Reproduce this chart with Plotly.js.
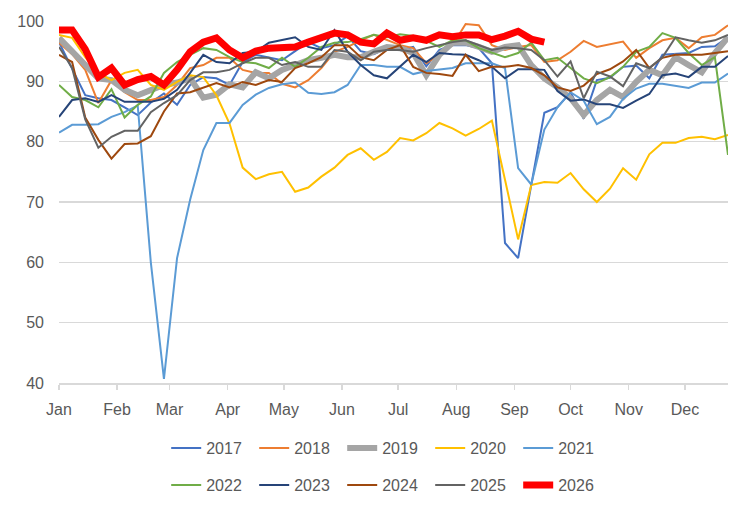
<!DOCTYPE html>
<html>
<head>
<meta charset="utf-8">
<script src="https://cdn.plot.ly/plotly-3.0.1.min.js"></script>
<style>
  html, body { margin: 0; padding: 0; background: #fff; }
  #chart { width: 752px; height: 511px; }
</style>
</head>
<body>
<div id="chart"></div>
<script>
// weekly readings, one value per week starting 1 Jan
const s2017 = [96.5, 92, 87.7, 87.2, 86.9, 85.7, 84.4, 86.5, 88, 86.1, 89.4, 90.7, 90.5, 89.4, 93.2, 94.4, 94, 93.5, 95, 96.5, 95.5, 96, 97.5, 95, 94.5, 95.5, 95.2, 95.7, 92.5, 95.2, 96, 96, 95.5, 93, 63.2, 60.7, 72.8, 84.8, 85.7, 88.2, 83.8, 90.2, 90.6, 92.4, 92.6, 90.5, 94.4, 94.5, 94.7, 95.7, 95.8, 97.3];
const s2018 = [96.4, 94.5, 91.9, 86.4, 90.2, 88.2, 86.9, 86.9, 87.4, 89.4, 92.2, 92.7, 93.9, 93.9, 91.9, 91.4, 91.4, 89.6, 89, 90.2, 92.2, 94.9, 95.7, 96.8, 97.7, 96.8, 96, 95.5, 93, 94.4, 96, 99.5, 99.3, 96, 95.2, 95.7, 96, 93.2, 93.5, 94.9, 96.7, 95.7, 96.2, 96.6, 93.9, 95.5, 96.8, 97.2, 95.5, 97.3, 97.7, 99.3];
const s2019 = [97.2, 94.9, 92.7, 90.5, 90.2, 88.6, 87.7, 88.6, 89.4, 89.8, 90.5, 87.3, 87.8, 89.5, 89, 91.5, 90.5, 91.9, 92.7, 93.5, 93.9, 94.4, 94, 94, 94.9, 95.7, 95.5, 94.7, 91, 94.4, 96.4, 96.4, 95.7, 94.9, 95.7, 96, 92.7, 90.5, 89, 87.2, 84.4, 86.9, 88.6, 87.4, 89.9, 91.9, 91, 94, 92.7, 91.5, 94.7, 97.3];
const s2020 = [97.7, 97.2, 94, 91.4, 90.2, 91.4, 91.9, 89.4, 88.6, 89.9, 91, 90.7, 87.7, 83, 75.7, 73.8, 74.6, 75, 71.7, 72.4, 74.2, 75.7, 77.8, 78.9, 77, 78.3, 80.6, 80.2, 81.4, 83.1, 82.2, 81, 82.1, 83.5, 73.7, 63.8, 72.8, 73.3, 73.2, 74.8, 72.1, 70, 72.2, 75.6, 73.7, 77.9, 79.8, 79.8, 80.6, 80.8, 80.4, 81.1];
const s2021 = [81.5, 82.8, 82.8, 82.9, 84.1, 84.9, 86, 60, 40.7, 60.7, 70.4, 78.6, 83.1, 83.1, 86.1, 87.8, 88.9, 89.5, 89.8, 88.1, 87.9, 88.2, 89.4, 92.7, 92.7, 92.4, 92.4, 91.2, 91.7, 92, 92.2, 93, 93, 93, 92.2, 75.6, 72.9, 82, 85.7, 88.2, 86.8, 82.9, 84.1, 87.1, 88.8, 89.6, 89.6, 89.3, 88.9, 89.8, 89.8, 91.3];
const s2022 = [89.4, 87.4, 86.9, 85.7, 88.7, 84, 86.1, 87.5, 91.4, 93.2, 94.4, 95.5, 95.2, 94, 93.2, 93, 92.2, 93.9, 92.4, 93.9, 95.7, 96.4, 96.5, 97, 97.7, 97.3, 97.8, 97.5, 96.7, 95.7, 96.8, 96.8, 95.5, 94.7, 94, 94.7, 96.4, 93.5, 93.9, 92.2, 90.5, 89.7, 90.7, 92.4, 94.9, 95.7, 98, 97.2, 94.7, 92.7, 94, 77.8];
const s2023 = [84.1, 86.9, 87.2, 86.6, 87.7, 86.6, 86.6, 86.6, 87.1, 88.6, 91.4, 94.4, 93.2, 93, 94.7, 94.9, 96.4, 96.8, 97.3, 95.7, 95.2, 98.5, 94.9, 92.7, 91, 90.5, 92.4, 94.4, 93.2, 94.7, 94.5, 94.4, 93.5, 92.4, 90.5, 92, 92, 91.9, 88.4, 86.8, 87, 86.2, 86.2, 85.6, 86.8, 87.9, 91, 91.3, 90.7, 92.4, 92.4, 94.2];
const s2024 = [94.4, 93.2, 84, 80.3, 77.2, 79.6, 79.7, 80.9, 85, 88, 88.2, 89, 89.7, 89, 89.9, 89.4, 90.2, 89.9, 92.2, 93, 94, 96, 96, 94, 93.5, 95.2, 96, 92.4, 91.4, 91.2, 90.9, 94.4, 91.7, 92.4, 92.4, 92.7, 92.2, 91, 89, 88.4, 89.3, 91.2, 92, 93.3, 95.2, 92.2, 93.9, 94.4, 94.4, 94.4, 94.7, 95];
const s2025 = [95.7, 92.2, 83.7, 79, 80.8, 81.8, 81.8, 84.9, 86.4, 87.7, 90.2, 91.5, 91.5, 91.9, 93, 93.9, 93.9, 92.7, 93.2, 92.4, 92.4, 95.2, 94.9, 93.5, 94.9, 95.2, 95.2, 94.9, 95.5, 96, 96.5, 96.8, 96, 95.2, 95.6, 95.5, 95.2, 93.5, 90.8, 93.3, 87.2, 91.6, 90.8, 89.2, 93, 92.2, 94, 97.3, 96.8, 96.4, 96.8, 97.7];
const s2026 = [98.5, 98.5, 95.3, 90.7, 92.2, 89.4, 90.3, 90.8, 89.4, 91.9, 94.9, 96.5, 97.2, 95.2, 93.9, 95, 95.5, 95.7, 95.7, 96.5, 97.3, 98, 97.7, 96.5, 96.2, 98, 96.8, 97.2, 96.8, 97.7, 97.4, 97.7, 97.7, 96.9, 97.5, 98.3, 97, 96.5];

const years = ['2017', '2018', '2019', '2020', '2021', '2022', '2023', '2024', '2025', '2026'];
const seriesList = [s2017, s2018, s2019, s2020, s2021, s2022, s2023, s2024, s2025, s2026];
const colors = ['#4472C4', '#ED7D31', '#A5A5A5', '#FFC000', '#5B9BD5', '#70AD47', '#264478', '#9E480E', '#636363', '#FF0000'];
const widths = [2, 2, 6, 2, 2, 2, 2, 2, 2, 7];

// week dates on a common (non-leap) calendar year, used only for the x axis
const weeks = [];
for (let i = 0; i < 52; i++) {
  const d = new Date(Date.UTC(2017, 0, 1 + 7 * i));
  weeks.push(d.toISOString().slice(0, 10));
}

const fontFam = '"Liberation Sans", Arial, sans-serif';
const txt = '#595959';

const data = seriesList.map((s, k) => ({
  x: weeks.slice(0, s.length),
  y: s,
  type: 'scatter',
  mode: 'lines',
  name: years[k],
  line: { color: colors[k], width: widths[k] },
  legend: k < 5 ? 'legend' : 'legend2'
}));

const legendBase = {
  orientation: 'h',
  xref: 'container',
  yref: 'container',
  yanchor: 'middle',
  x: 0.221,
  entrywidth: 43,
  entrywidthmode: 'pixels',
  font: { family: fontFam, size: 16, color: txt },
  bgcolor: 'rgba(0,0,0,0)'
};

const layout = {
  width: 752,
  height: 511,
  paper_bgcolor: '#ffffff',
  plot_bgcolor: '#ffffff',
  font: { family: fontFam, size: 16, color: txt },
  margin: { l: 59, r: 24, t: 21, b: 128 },
  showlegend: true,
  xaxis: {
    type: 'date',
    range: ['2017-01-01', '2017-12-24'],
    tick0: '2017-01-01',
    dtick: 'M1',
    tickformat: '%b',
    showgrid: false,
    zeroline: false,
    showline: true,
    linecolor: '#d9d9d9',
    linewidth: 1.5,
    ticks: 'outside',
    ticklen: 5,
    tickcolor: '#d9d9d9',
    tickwidth: 1.5,
    ticklabelstandoff: 6,
    tickfont: { family: fontFam, size: 16, color: txt }
  },
  yaxis: {
    range: [40, 100],
    dtick: 10,
    showgrid: true,
    gridcolor: '#d9d9d9',
    gridwidth: 1.5,
    zeroline: false,
    showline: false,
    ticks: '',
    ticklabelstandoff: 14,
    tickfont: { family: fontFam, size: 16, color: txt }
  },
  legend: Object.assign({}, legendBase, { y: 1 - 448 / 511 }),
  legend2: Object.assign({}, legendBase, { y: 1 - 485 / 511 })
};

Plotly.newPlot('chart', data, layout, { displayModeBar: false, staticPlot: true });
</script>
</body>
</html>
